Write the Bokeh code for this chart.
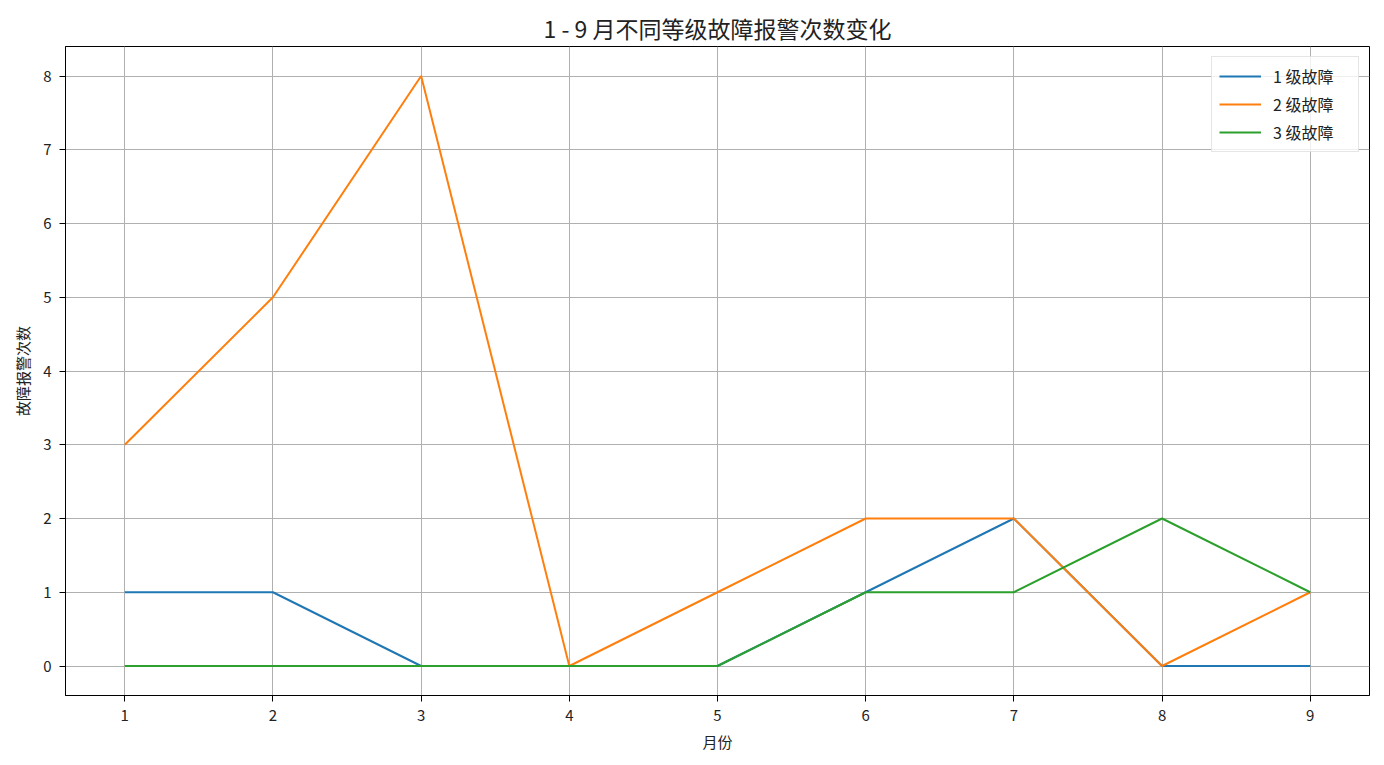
from bokeh.plotting import figure
from bokeh.models import Range1d, FixedTicker, Legend, LegendItem
from bokeh.embed import file_html
from bokeh.resources import INLINE

months = [1, 2, 3, 4, 5, 6, 7, 8, 9]
level1 = [1, 1, 0, 0, 0, 1, 2, 0, 0]
level2 = [3, 5, 8, 0, 1, 2, 2, 0, 1]
level3 = [0, 0, 0, 0, 0, 1, 1, 2, 1]
series_labels = ["1 级故障", "2 级故障", "3 级故障"]
colors = ["#1f77b4", "#ff7f0e", "#2ca02c"]

FONT = "Noto Sans CJK SC"

p = figure(output_backend="svg", toolbar_location=None,
           x_range=Range1d(0.6, 9.4), y_range=Range1d(-0.4, 8.4),
           title="1 - 9 月不同等级故障报警次数变化",
           frame_width=1304, frame_height=649,
           min_border_left=65, min_border_right=8, min_border_top=46, min_border_bottom=62)

p.title.align = "center"
p.title.text_font = FONT
p.title.text_font_size = "23px"
p.title.text_font_style = "normal"
p.title.text_color = "#222222"
p.title.standoff = 4

items = []
for ys, lab, c in zip([level1, level2, level3], series_labels, colors):
    r = p.line(months, ys, line_color=c, line_width=2)
    items.append(LegendItem(label=lab, renderers=[r]))

legend = Legend(items=items, location="top_right")
legend.label_text_font = FONT
legend.label_text_font_size = "16px"
legend.label_text_color = "#222222"
legend.label_width = 78
legend.label_height = 20
legend.glyph_height = 20
legend.glyph_width = 42
legend.label_standoff = 12
legend.spacing = 4
legend.padding = 7
legend.margin = 10
legend.border_line_color = "#cccccc"
legend.border_line_width = 1
legend.background_fill_alpha = 0.8
p.add_layout(legend)

p.xaxis.ticker = FixedTicker(ticks=months)
p.yaxis.ticker = FixedTicker(ticks=list(range(0, 9)))
for ax in [p.xaxis, p.yaxis]:
    ax.major_label_text_font = FONT
    ax.major_label_text_font_size = "15px"
    ax.major_label_text_color = "#222222"
    ax.major_label_standoff = 8
    ax.axis_label_text_font = FONT
    ax.axis_label_text_font_size = "15px"
    ax.axis_label_text_font_style = "normal"
    ax.axis_label_text_color = "#222222"
    ax.axis_label_standoff = 7
    ax.minor_tick_line_color = None
    ax.major_tick_out = 6
    ax.major_tick_in = 0
    ax.axis_line_color = "black"
    ax.major_tick_line_color = "black"
p.xaxis.axis_label = "月份"
p.yaxis.axis_label = "故障报警次数"

p.xgrid.grid_line_color = "#b0b0b0"
p.ygrid.grid_line_color = "#b0b0b0"
p.xgrid.grid_line_width = 1
p.ygrid.grid_line_width = 1
p.outline_line_color = "black"
p.outline_line_width = 1
p.outline_line_alpha = 1

open("out.html", "w").write(file_html(p, INLINE))
